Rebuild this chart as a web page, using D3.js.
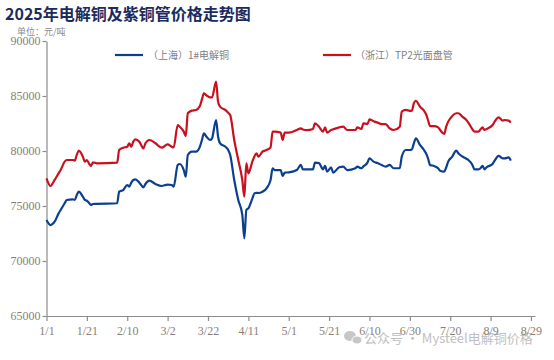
<!DOCTYPE html>
<html><head><meta charset="utf-8">
<script src="https://cdn.jsdelivr.net/npm/d3@7/dist/d3.min.js"></script>
<style>
html,body{margin:0;padding:0;background:#fff;}
svg{display:block;}
</style></head>
<body>
<svg id="chart" width="554" height="360"></svg>
<script>
const title = "2025年电解铜及紫铜管价格走势图";
const unitLabel = "单位：元/吨";
const seriesNames = ["（上海）1#电解铜", "（浙江）TP2光面盘管"];
const yTicks = [65000, 70000, 75000, 80000, 85000, 90000];
const xTickLabels = ["1/1","1/21","2/10","3/2","3/22","4/11","5/1","5/21","6/10","6/30","7/20","8/9","8/29"];
const watermark = "公众号 · Mysteel电解铜价格";

const dates = [
 "1/1","1/3","1/5","1/7","1/8","1/10","1/11","1/14","1/15","1/16","1/17","1/19","1/20","1/21","1/22","1/23","1/24","1/26",
 "2/5","2/6","2/8","2/10","2/11","2/12","2/13","2/14","2/16","2/18","2/19","2/21","2/24","2/27",
 "3/2","3/4","3/5","3/7","3/8","3/10","3/11","3/12","3/14","3/16","3/18","3/19","3/20","3/21","3/23","3/24","3/26","3/27","3/28","3/31",
 "4/1","4/2","4/4","4/6","4/8","4/9","4/10","4/11","4/13","4/14","4/15","4/16","4/18","4/20","4/22","4/23","4/24","4/27","4/28","4/29",
 "5/1","5/5","5/7","5/8","5/10","5/13","5/14","5/16","5/18","5/19","5/20","5/22","5/23","5/26","5/28","5/30",
 "6/3","6/4","6/6","6/7","6/9","6/10","6/12","6/14","6/16","6/18","6/20","6/22","6/25","6/26","6/28","6/30",
 "7/1","7/2","7/3","7/5","7/7","7/8","7/9","7/10","7/12","7/14","7/15","7/17","7/18","7/19","7/21","7/23","7/24","7/26","7/28","7/29","7/31",
 "8/1","8/3","8/4","8/5","8/6","8/7","8/10","8/11","8/13","8/15","8/16","8/18","8/19"
];

const shanghai = [
 73730,73270,73570,74330,74640,75250,75550,75610,75550,76000,76300,75850,75550,75480,75300,75090,75180,75200,
 75250,76300,76450,76910,76760,77120,77360,77420,77120,76700,77000,77300,77000,76820,
 76950,76910,76760,78730,78820,78270,77660,79640,79940,79940,80400,81000,81610,81360,81000,81150,82820,81300,80700,80330,
 80090,79640,77360,75550,74200,72060,74640,74790,75700,76150,76200,76180,76300,76610,77360,78430,78270,78270,77730,78030,
 78060,78270,78730,78330,78330,78330,78940,78900,78330,78640,78120,78520,78030,78520,78580,78270,
 78430,78580,78430,78600,78940,79330,79030,78900,78730,78580,78730,78430,78430,79490,80090,80090,
 80150,80700,81150,80550,80090,79790,79330,78730,78640,78430,78210,78120,78500,79030,79490,80030,79800,79500,79300,79180,78730,
 78330,78330,78430,78640,78330,78520,78820,79120,79550,79330,79330,79420,79120
];

const zhejiang = [
 77520,76820,77360,77970,78270,79030,79180,79180,79120,79640,80030,79490,79030,79180,78880,78640,78970,78880,
 78940,80090,80300,80390,80700,80390,80850,81060,80850,80240,80700,81000,80700,80300,
 80600,80390,80330,82360,82210,81760,81360,83430,83670,83730,84100,84700,85240,85090,84880,84880,86300,84480,84030,83670,
 83480,83270,81000,79180,77360,75850,78880,77970,79050,79500,79790,79490,79940,80090,80330,81760,81760,81670,81000,81670,
 81670,81910,82060,81950,81900,82000,82520,82210,81760,82150,81670,81900,81970,82150,82210,81910,
 81910,82150,82000,82520,82450,82880,82700,82580,82450,82450,82060,81910,82210,83580,83730,83650,
 83670,84350,84570,84030,83670,83360,82820,82270,82270,82150,81910,81550,82210,82670,83180,83430,83430,83120,82820,82580,81970,
 81760,81760,81970,82150,81910,82000,82360,82670,83060,82760,82820,82760,82580
];

const colors = ["#0d3f8f", "#c8101e"];

const parseMD = s => { const [m,d] = s.split("/").map(Number); return new Date(Date.UTC(2025, m-1, d)); };

const svg = d3.select("#chart");
const pL = 46.5, pR = 535, pT = 41, pB = 316;

const x = d3.scaleUtc().domain([parseMD("1/1"), parseMD("8/31")]).range([pL, pR]);
const y = d3.scaleLinear().domain([65000, 90000]).range([pB, pT]);

// title
svg.append("text").attr("x", 5).attr("y", 20)
  .attr("font-family", "'Noto Sans CJK SC', sans-serif").attr("font-weight", 700)
  .attr("font-size", 16).attr("fill", "#1b2b5e").text(title);
svg.append("text").attr("x", 17).attr("y", 35)
  .attr("font-family", "'Noto Sans CJK SC', sans-serif")
  .attr("font-size", 9).attr("fill", "#8a8a8a").text(unitLabel);

const axisColor = "#8c8c8c";
const labelColor = "#8a7f76";

// y axis
const yAxis = svg.append("g").attr("transform", `translate(${pL},0)`)
  .call(d3.axisLeft(y).tickValues(yTicks).tickSize(4).tickSizeOuter(0).tickFormat(d3.format("d")));
yAxis.select(".domain").attr("stroke", axisColor).attr("stroke-width", 1.2);
yAxis.selectAll(".tick line").attr("stroke", axisColor).attr("stroke-width", 1.2);
yAxis.selectAll(".tick text").attr("font-family", "'Liberation Serif', serif").attr("font-size", 12)
  .attr("fill", labelColor).attr("x", -6);

// x axis
const xAxis = svg.append("g").attr("transform", `translate(0,${pB})`)
  .call(d3.axisBottom(x).tickValues(xTickLabels.map(parseMD)).tickSize(5).tickSizeOuter(0)
    .tickFormat((d,i) => xTickLabels[i]));
xAxis.select(".domain").attr("stroke", axisColor).attr("stroke-width", 1.2);
xAxis.selectAll(".tick line").attr("stroke", axisColor).attr("stroke-width", 1.2);
xAxis.selectAll(".tick text").attr("font-family", "'Liberation Serif', serif").attr("font-size", 12)
  .attr("fill", labelColor).attr("y", 10);

// lines
const series = [shanghai, zhejiang];
series.forEach((vals, k) => {
  const pts = dates.map((d,i) => [parseMD(d), vals[i]]).filter(p => p[1] != null);
  svg.append("path").datum(pts)
    .attr("fill", "none").attr("stroke", colors[k]).attr("stroke-width", 2.2)
    .attr("stroke-linejoin", "round")
    .attr("d", d3.line().x(p => x(p[0])).y(p => y(p[1])).curve(d3.curveMonotoneX));
});

// legend
const legendPos = [[115, 150], [323, 357]];
seriesNames.forEach((name, k) => {
  svg.append("line").attr("x1", legendPos[k][0]).attr("x2", legendPos[k][0] + 28)
    .attr("y1", 55).attr("y2", 55).attr("stroke", colors[k]).attr("stroke-width", 2.2);
  svg.append("text").attr("x", legendPos[k][1] - 2).attr("y", 59)
    .attr("font-family", "'Noto Sans CJK SC', sans-serif").attr("font-size", 10)
    .attr("fill", "#808080").text(name);
});

// watermark
const wm = svg.append("g").attr("opacity", 0.55);
wm.append("ellipse").attr("cx", 350).attr("cy", 336).attr("rx", 6).attr("ry", 5).attr("fill", "#9a9a9a");
wm.append("ellipse").attr("cx", 357).attr("cy", 340).attr("rx", 5).attr("ry", 4).attr("fill", "#9a9a9a").attr("stroke","#fff").attr("stroke-width",1);
wm.append("text").attr("x", 364).attr("y", 343)
  .attr("font-family", "'Noto Sans CJK SC', sans-serif").attr("font-size", 13)
  .attr("fill", "#8c8c8c").text(watermark);
</script>
</body></html>
